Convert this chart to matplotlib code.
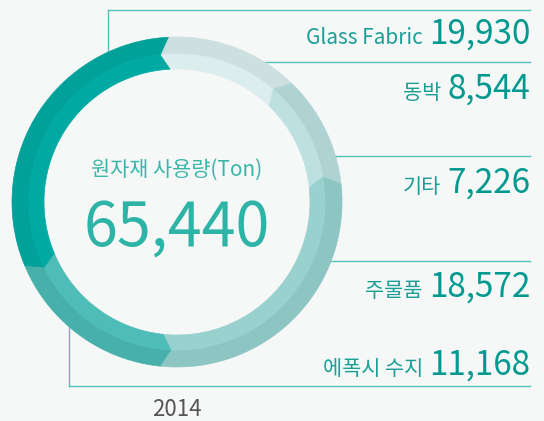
import numpy as np
import matplotlib.pyplot as plt
from matplotlib.patches import Polygon, Circle

plt.rcParams['font.family'] = ['Noto Sans CJK KR', 'DejaVu Sans']

# data (label order, top to bottom on the right)
labels = ['Glass Fabric', '동박', '기타', '주물품', '에폭시 수지']
values = [19930, 8544, 7226, 18572, 11168]
total_label = '원자재 사용량(Ton)'
year = '2014'

# ring order, clockwise from the top
ring_order = [1, 2, 3, 4, 0]
outer_colors = ['#00a199', '#cddfdf', '#afd3d2', '#8cc5c2', '#47b0aa']
inner_colors = ['#00aaa3', '#dbeded', '#bce1e0', '#98d1ce', '#4ebdb7']

bg = '#f6f8f8'
line_c = '#52c1b7'
cx, cy = 177, 202
r_out, r_mid, r_in = 165, 148, 133
start = -3.0
notch = 3.5

fig = plt.figure(figsize=(5.44, 4.21), dpi=100)
fig.patch.set_facecolor(bg)
ax = fig.add_axes([0, 0, 1, 1])
ax.set_xlim(0, 544)
ax.set_ylim(421, 0)
ax.set_aspect('equal')
ax.axis('off')


def pt(r, deg):
    t = np.radians(deg)
    return (cx + r * np.sin(t), cy - r * np.cos(t))


def arc(r, a0, a1, n=80):
    return [pt(r, a) for a in np.linspace(a0, a1, n)]


total = sum(values)
a = start
for i in ring_order:
    span = values[i] / total * 360
    a0, a1 = a, a + span
    outer = arc(r_out, a0, a1) + [pt(r_mid, a1 - notch)] + arc(r_mid, a1 - notch, a0 - notch)
    inner = arc(r_mid, a0 - notch, a1 - notch) + [pt(r_in, a1)] + arc(r_in, a1, a0)
    ax.add_patch(Polygon(outer, closed=True, fc=outer_colors[i], ec=outer_colors[i], lw=0.5, zorder=3))
    ax.add_patch(Polygon(inner, closed=True, fc=inner_colors[i], ec=inner_colors[i], lw=0.5, zorder=3))
    a = a1

# frame lines, behind the ring
x_right = 530
line_ys = [9.5, 62, 156, 261, 386]
ax.plot([108, x_right], [line_ys[0], line_ys[0]], color=line_c, lw=1, zorder=1)
ax.plot([108, 108], [line_ys[0], 120], color=line_c, lw=1, zorder=1)
for y in line_ys[1:4]:
    ax.plot([cx, x_right], [y, y], color=line_c, lw=1, zorder=1)
ax.plot([69, x_right], [line_ys[4], line_ys[4]], color=line_c, lw=1, zorder=1)
ax.plot([69, 69], [line_ys[4], 280], color=line_c, lw=1, zorder=1)
ax.add_patch(Circle((cx, cy), r_in + 1, fc=bg, ec='none', zorder=2))

# labels on the right
baselines = [44, 99, 193, 297, 375]
fig.canvas.draw()
for lab, v, y in zip(labels, values, baselines):
    num = ax.text(x_right, y, f'{v:,}', ha='right', va='baseline',
                  fontsize=24, fontweight='medium', color='#00998f', zorder=4)
    bb = num.get_window_extent(renderer=fig.canvas.get_renderer())
    xn = bb.x0 * 100 / fig.dpi - 6
    ax.text(xn, y, lab, ha='right', va='baseline', fontsize=15,
            color='#1a9f96', zorder=4)

ax.text(cx, 176, total_label, ha='center', va='baseline', fontsize=15,
        color='#3ab5a9', zorder=4)
ax.text(cx, 247, f'{total:,}', ha='center', va='baseline', fontsize=44,
        color='#2db4a7', zorder=4)
ax.text(cx, 416, year, ha='center', va='baseline', fontsize=16,
        color='#555555', zorder=4)

fig.savefig('out.png', dpi=100, facecolor=bg)
